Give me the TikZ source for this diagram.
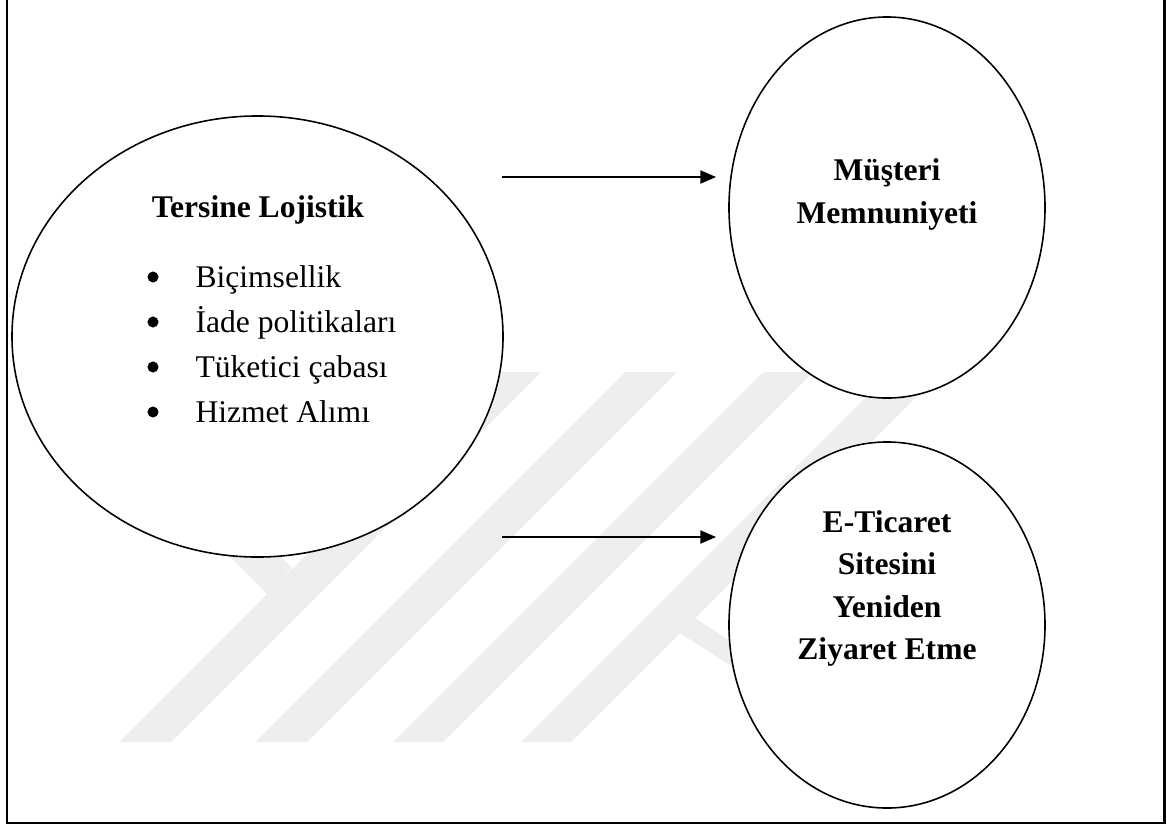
\documentclass[tikz,border=0pt,12pt]{standalone}
\usepackage{fontspec}
\setmainfont{Liberation Serif}
\usetikzlibrary{shapes.geometric,arrows.meta}
\definecolor{wmgray}{gray}{0.935}

\begin{document}
\begin{tikzpicture}[x=0.38pt,y=-0.38pt,
    bubble/.style={draw, ellipse, line width=0.6pt, fill=white, inner sep=0pt},
    arr/.style={-{Triangle[length=6pt,width=5pt]}, line width=0.6pt, shorten >=4.6pt},
    head/.style={font=\fontsize{12}{14.4}\selectfont\bfseries, anchor=base},
    item/.style={font=\fontsize{12}{14.4}\selectfont, anchor=base west, inner sep=0pt},
    dot/.style={circle, fill, inner sep=0pt, minimum size=4.2pt}]
\useasboundingbox (0,0) rectangle (1167,828);

% watermark in the background
\foreach \a/\b in {119/171, 255/307, 393/443, 521/571}
    \fill[wmgray] (\a,742) -- (\b,742) -- (\b+370,372) -- (\a+370,372) -- cycle;
\fill[wmgray] (45,372) -- (96,372) -- (292,568) -- (267,594) -- cycle;
\fill[wmgray] (695,618) -- (760,660) -- (740,672) -- (680,633) -- cycle;

% frame
\draw[line width=0.9pt] (7,0) -- (7,823) -- (1164.5,823) -- (1164.5,0);

% ellipses
\node[bubble, minimum width=186.6pt, minimum height=167.6pt] (tl) at (257.5,336.5) {};
\node[bubble, minimum width=120.1pt, minimum height=144.8pt] (mm) at (887,207.5) {};
\node[bubble, minimum width=120.1pt, minimum height=139.1pt] (et) at (887,625) {};

% left ellipse text
\node[head] (tt) at (258,217) {Tersine Lojistik};
\foreach \t [count=\i] in {Biçimsellik, İade politikaları, Tüketici çabası, Hizmet Alımı} {
    \node[dot] (bu\i) at (153,232+45*\i) {};
    \node[item] (it\i) at (195,242+45*\i) {\t};
}

% right ellipse texts
\node[head] (m1) at (887,180) {Müşteri};
\node[head] (m2) at (887,223) {Memnuniyeti};
\node[head] (e1) at (887,532) {E-Ticaret};
\node[head] (e2) at (887,574.5) {Sitesini};
\node[head] (e3) at (887,617) {Yeniden};
\node[head] (e4) at (887,659.5) {Ziyaret Etme};

% arrows
\coordinate (s1) at (502,177);
\coordinate (s2) at (502,537);
\draw[arr] (s1) -- (s1 -| mm.west);
\draw[arr] (s2) -- (s2 -| et.west);
\end{tikzpicture}
\end{document}
